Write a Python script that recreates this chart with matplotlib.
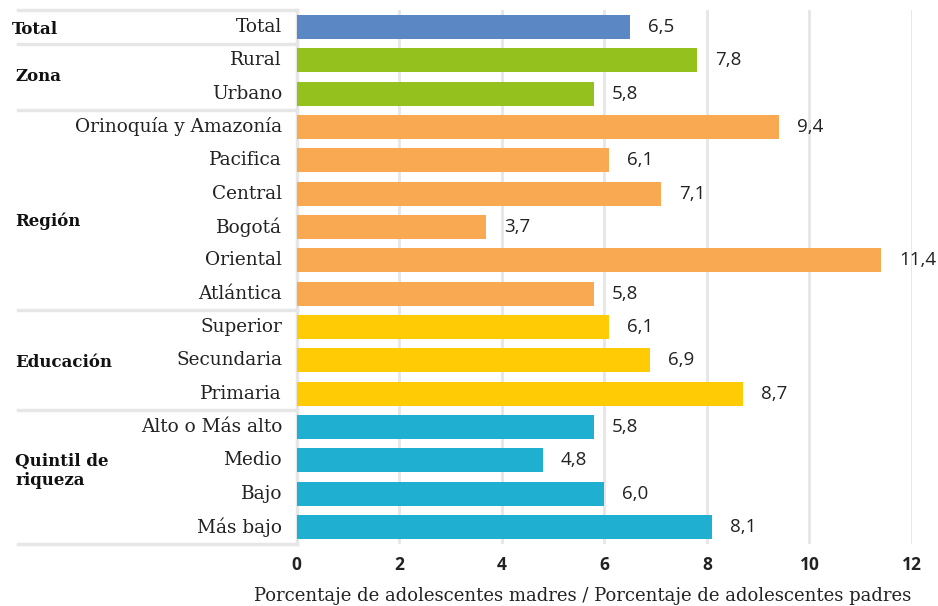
import matplotlib
matplotlib.use("Agg")
import matplotlib.pyplot as plt
import matplotlib.transforms as mtransforms

categorias = ["Total", "Rural", "Urbano", "Orinoquía y Amazonía", "Pacifica",
              "Central", "Bogotá", "Oriental", "Atlántica", "Superior",
              "Secundaria", "Primaria", "Alto o Más alto", "Medio", "Bajo",
              "Más bajo"]
valores = [6.5, 7.8, 5.8, 9.4, 6.1, 7.1, 3.7, 11.4, 5.8, 6.1, 6.9, 8.7,
           5.8, 4.8, 6.0, 8.1]
grupos = ["Total", "Zona", "Región", "Educación", "Quintil de\nriqueza"]
tamanos_grupo = [1, 2, 6, 3, 4]
colores_grupo = ["#5b88c4", "#95c11f", "#f8a952", "#ffcb05", "#1eafd1"]
ticks_x = [0, 2, 4, 6, 8, 10, 12]
titulo_x = "Porcentaje de adolescentes madres / Porcentaje de adolescentes padres"

SERIF = "DejaVu Serif"
SANS = "Open Sans"

fig = plt.figure(figsize=(9.38, 6.06), dpi=100)
ax = fig.add_axes([296.5 / 938, 1 - 543.7 / 606, (912 - 296.5) / 938, (543.7 - 10.3) / 606])

colores = []
for c, n in zip(colores_grupo, tamanos_grupo):
    colores += [c] * n

y = list(range(len(categorias)))
ax.barh(y, valores, height=0.72, color=colores, zorder=3)
for yi, v in zip(y, valores):
    ax.annotate(f"{v:.1f}".replace(".", ","), (v, yi), xytext=(13, 0),
                textcoords="offset points", ha="left", va="center",
                fontsize=13.5, family=SANS, color="#222222")

ax.set_xlim(0, 12)
ax.set_ylim(len(categorias) - 0.5, -0.5)
ax.set_xticks(ticks_x)
ax.set_xticklabels([str(t) for t in ticks_x], fontsize=12.5, fontweight="bold",
                   family=SANS, color="#222222")
ax.tick_params(axis="x", length=0, pad=9)
ax.set_yticks([])
ax.grid(axis="x", color="#e6e6e6", linewidth=2, zorder=0)
for s in ax.spines.values():
    s.set_visible(False)

# tabla de la izquierda
tr = mtransforms.blended_transform_factory(fig.transFigure, ax.transData)
for yi, cat in zip(y, categorias):
    ax.text(282 / 938, yi, cat, transform=tr, ha="right", va="center",
            fontsize=13.3, family=SERIF, color="#222222")

bordes = [-0.5]
for n in tamanos_grupo:
    bordes.append(bordes[-1] + n)
for b in bordes:
    ax.plot([18 / 938, 296.5 / 938], [b, b], transform=tr, color="#e6e6e6",
            linewidth=2.5, clip_on=False, zorder=1)
ax.plot([296.5 / 938, 296.5 / 938], [bordes[0], bordes[-1]], transform=tr,
        color="#e6e6e6", linewidth=2.5, clip_on=False, zorder=1)

# desplazamiento vertical de las etiquetas de grupo (como en el original)
ajuste = [0.08, 0.0, 0.33, 0.06, -0.18]
for g, a, b, d in zip(grupos, bordes[:-1], bordes[1:], ajuste):
    xg = 12 / 938 if g == "Total" else 15 / 938
    ax.text(xg, (a + b) / 2 + d, g, transform=tr,
            ha="left", va="center", fontsize=12, fontweight="bold",
            family=SERIF, color="#111111", linespacing=1.15)

fig.text(911 / 938, 1 - 596 / 606, titulo_x, ha="right", va="center",
         fontsize=13, family=SERIF, color="#222222")

fig.savefig("out.png", dpi=100)
